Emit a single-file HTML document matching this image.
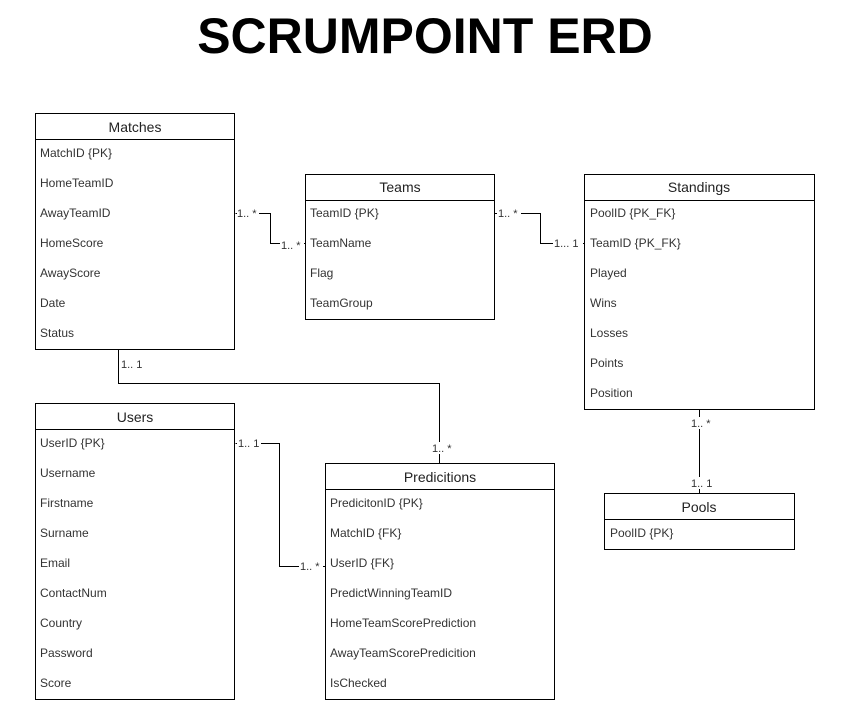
<!DOCTYPE html>
<html><head><meta charset="utf-8"><style>
html,body{margin:0;padding:0;background:#fff;}
svg text{font-family:"Liberation Sans",Arial,sans-serif;}
</style></head><body>
<svg width="850" height="702" xmlns="http://www.w3.org/2000/svg">
<rect width="850" height="702" fill="#fff"/>
<text x="425" y="53" text-anchor="middle" font-size="50" font-weight="bold" fill="#000">SCRUMPOINT ERD</text>
<g fill="none" stroke="#000" stroke-width="1">
<path d="M235.5 213.5H270.5V243.5H305"/>
<path d="M494.5 213.5H540.5V243.5H584"/>
<path d="M118.5 349V383.5H439.5V463"/>
<path d="M235.5 443.5H279.5V566.5H325"/>
<path d="M699.5 409V493"/>
</g>
<g font-size="11" fill="#333">
<rect x="237" y="207" width="22" height="12" fill="#fff"/><text x="237" y="217">1.. *</text>
<rect x="280" y="239" width="24" height="12" fill="#fff"/><text x="281" y="249">1.. *</text>
<rect x="497" y="207" width="24" height="12" fill="#fff"/><text x="498" y="217">1.. *</text>
<rect x="553" y="237" width="30" height="12" fill="#fff"/><text x="554" y="247">1... 1</text>
<rect x="120" y="357" width="24" height="12" fill="#fff"/><text x="121" y="368">1.. 1</text>
<rect x="431" y="442" width="24" height="12" fill="#fff"/><text x="432" y="452">1.. *</text>
<rect x="237" y="437" width="24" height="12" fill="#fff"/><text x="238" y="447">1.. 1</text>
<rect x="299" y="560" width="24" height="12" fill="#fff"/><text x="300" y="570">1.. *</text>
<rect x="690" y="417" width="24" height="12" fill="#fff"/><text x="691" y="427">1.. *</text>
<rect x="690" y="477" width="24" height="12" fill="#fff"/><text x="691" y="487">1.. 1</text>
</g>
<g fill="#fff" stroke="#000" stroke-width="1">
<rect x="35.5" y="113.5" width="199" height="236"/><path d="M35.5 139.5H234.5"/>
<rect x="305.5" y="174.5" width="189" height="145"/><path d="M305.5 200.5H494.5"/>
<rect x="584.5" y="174.5" width="230" height="235"/><path d="M584.5 200.5H814.5"/>
<rect x="35.5" y="403.5" width="199" height="296"/><path d="M35.5 429.5H234.5"/>
<rect x="325.5" y="463.5" width="229" height="236"/><path d="M325.5 489.5H554.5"/>
<rect x="604.5" y="493.5" width="190" height="56"/><path d="M604.5 519.5H794.5"/>
</g>
<g font-size="14" fill="#222" text-anchor="middle">
<text x="135" y="132">Matches</text>
<text x="400" y="192">Teams</text>
<text x="699" y="192">Standings</text>
<text x="135" y="422">Users</text>
<text x="440" y="482">Predicitions</text>
<text x="699" y="512">Pools</text>
</g>
<g font-size="12" fill="#333">
<text x="40" y="157">MatchID {PK}</text><text x="40" y="187">HomeTeamID</text><text x="40" y="217">AwayTeamID</text><text x="40" y="247">HomeScore</text><text x="40" y="277">AwayScore</text><text x="40" y="307">Date</text><text x="40" y="337">Status</text>
<text x="310" y="217">TeamID {PK}</text><text x="310" y="247">TeamName</text><text x="310" y="277">Flag</text><text x="310" y="307">TeamGroup</text>
<text x="590" y="217">PoolID {PK_FK}</text><text x="590" y="247">TeamID {PK_FK}</text><text x="590" y="277">Played</text><text x="590" y="307">Wins</text><text x="590" y="337">Losses</text><text x="590" y="367">Points</text><text x="590" y="397">Position</text>
<text x="40" y="447">UserID {PK}</text><text x="40" y="477">Username</text><text x="40" y="507">Firstname</text><text x="40" y="537">Surname</text><text x="40" y="567">Email</text><text x="40" y="597">ContactNum</text><text x="40" y="627">Country</text><text x="40" y="657">Password</text><text x="40" y="687">Score</text>
<text x="330" y="507">PredicitonID {PK}</text><text x="330" y="537">MatchID {FK}</text><text x="330" y="567">UserID {FK}</text><text x="330" y="597">PredictWinningTeamID</text><text x="330" y="627">HomeTeamScorePrediction</text><text x="330" y="657">AwayTeamScorePredicition</text><text x="330" y="687">IsChecked</text>
<text x="610" y="537">PoolID {PK}</text>
</g>
</svg>
</body></html>
